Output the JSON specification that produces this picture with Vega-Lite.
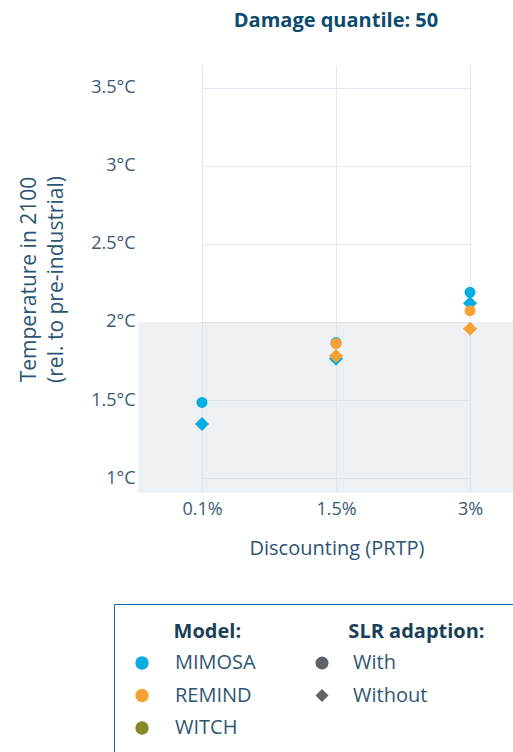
{
  "$schema": "https://vega.github.io/schema/vega-lite/v6.json",
  "autosize": {"type": "none"},
  "padding": {"left": 138, "top": 65, "right": 0, "bottom": 259},
  "width": 375,
  "height": 428,
  "background": "white",
  "config": {
    "font": "Open Sans",
    "view": {"stroke": null}
  },
  "title": {
    "text": "Damage quantile: 50",
    "fontSize": 20,
    "fontWeight": "bold",
    "color": "#0d4b6e",
    "anchor": "middle",
    "frame": "group",
    "dx": 10.5,
    "offset": 34
  },
  "datasets": {
    "results": [
      {"PRTP": "0.1%", "Model": "MIMOSA", "SLR": "With", "temp": 1.485},
      {"PRTP": "0.1%", "Model": "MIMOSA", "SLR": "Without", "temp": 1.346},
      {"PRTP": "1.5%", "Model": "MIMOSA", "SLR": "With", "temp": 1.868},
      {"PRTP": "1.5%", "Model": "MIMOSA", "SLR": "Without", "temp": 1.765},
      {"PRTP": "1.5%", "Model": "REMIND", "SLR": "With", "temp": 1.862},
      {"PRTP": "1.5%", "Model": "REMIND", "SLR": "Without", "temp": 1.782},
      {"PRTP": "3%", "Model": "MIMOSA", "SLR": "With", "temp": 2.19},
      {"PRTP": "3%", "Model": "MIMOSA", "SLR": "Without", "temp": 2.12},
      {"PRTP": "3%", "Model": "REMIND", "SLR": "With", "temp": 2.072},
      {"PRTP": "3%", "Model": "REMIND", "SLR": "Without", "temp": 1.957}
    ],
    "band": [{"lower": 0.905, "upper": 2}]
  },
  "layer": [
    {
      "data": {"name": "band"},
      "mark": {"type": "rect", "color": "#dce3ea", "opacity": 0.5},
      "encoding": {
        "y": {"field": "lower", "type": "quantitative"},
        "y2": {"field": "upper"}
      }
    },
    {
      "data": {"name": "results"},
      "encoding": {
        "x": {
          "field": "PRTP",
          "type": "nominal",
          "sort": ["0.1%", "1.5%", "3%"],
          "scale": {"type": "point", "domain": ["0.1%", "1.5%", "3%"], "range": [64, 332], "padding": 0},
          "axis": {
            "title": "Discounting (PRTP)",
            "labelAngle": 0,
            "domain": false,
            "ticks": false,
            "grid": true,
            "gridColor": "#e1e8ef",
            "gridWidth": 1,
            "labelFontSize": 18,
            "labelColor": "#3a5b76",
            "labelPadding": 7,
            "titleFontSize": 20,
            "titleFontWeight": "normal",
            "titleColor": "#2b5573",
            "titlePadding": 20,
            "titleX": 198.5,
            "titleAlign": "center"
          }
        },
        "y": {"field": "temp", "type": "quantitative"},
        "color": {
          "field": "Model",
          "type": "nominal",
          "scale": {"domain": ["MIMOSA", "REMIND", "WITCH"], "range": ["#05ade2", "#f7a033", "#878a2b"]},
          "legend": {
            "title": "\u200b\u00a0\u00a0\u00a0\u00a0\u00a0\u00a0\u00a0\u00a0Model:",
            "titleLimit": 1000,
            "labelLimit": 1000,
            "labelExpr": "datum.label === 'WITCH' ? 'WITCH\u00a0\u00a0\u00a0\u00a0\u00a0\u00a0\u00a0\u00a0\u00a0\u00a0\u00a0\u00a0\u00a0\u00a0\u00a0\u00a0\u00a0\u00a0\u00a0\u00a0\u00a0\u00a0\u00a0\u00a0\u00a0\u00a0\u00a0\u00a0\u00a0\u00a0\u00a0\u00a0\u00a0\u00a0\u00a0\u00a0\u00a0\u00a0\u00a0\u00a0\u00a0\u00a0\u00a0\u00a0\u00a0\u00a0\u00a0\u00a0\u00a0\u00a0\u00a0\u200b' : datum.label",
            "orient": "none",
            "legendX": -24,
            "legendY": 539,
            "padding": 18,
            "strokeColor": "#1f6aa5",
            "titleFontSize": 20,
            "titleFontWeight": "bold",
            "titleColor": "#1b3f58",
            "titlePadding": 11,
            "labelFontSize": 20,
            "labelColor": "#2f5670",
            "labelOffset": 23,
            "rowPadding": 12.5,
            "symbolSize": 180,
            "symbolType": "circle",
            "symbolStrokeWidth": 0,
            "encode": {
              "legend": {"update": {"strokeWidth": {"value": 2}}}
            }
          }
        },
        "shape": {
          "field": "SLR",
          "type": "nominal",
          "scale": {"domain": ["With", "Without"], "range": ["circle", "diamond"]},
          "legend": {
            "title": "\u200b\u00a0\u00a0\u00a0\u00a0\u00a0\u00a0\u00a0SLR adaption:",
            "titleLimit": 1000,
            "orient": "none",
            "legendX": 156,
            "legendY": 539,
            "padding": 18,
            "titleFontSize": 20,
            "titleFontWeight": "bold",
            "titleColor": "#1b3f58",
            "titlePadding": 11,
            "labelFontSize": 20,
            "labelColor": "#2f5670",
            "labelOffset": 21,
            "rowPadding": 12.5,
            "symbolSize": 170,
            "symbolFillColor": "#5f6368",
            "symbolStrokeWidth": 0,
            "encode": {
              "symbols": {"update": {"fill": {"value": "#5f6368"}, "opacity": {"value": 1}}}
            }
          }
        }
      },
      "layer": [
        {
          "transform": [{"filter": "datum.SLR === 'Without'"}],
          "mark": {"type": "point", "filled": true, "opacity": 1, "size": 196, "strokeWidth": 0}
        },
        {
          "transform": [{"filter": "datum.SLR === 'With'"}],
          "mark": {"type": "point", "filled": true, "opacity": 1, "size": 121, "strokeWidth": 0}
        }
      ]
    }
  ],
  "resolve": {"scale": {"y": "shared"}},
  "encoding": {
    "y": {
      "type": "quantitative",
      "scale": {"domain": [0.905, 3.645], "nice": false, "zero": false},
      "axis": {
        "title": ["Temperature in 2100", "(rel. to pre-industrial)"],
        "values": [1, 1.5, 2, 2.5, 3, 3.5],
        "labelExpr": "datum.value + '°C'",
        "domain": false,
        "ticks": false,
        "grid": true,
        "gridColor": "#e1e8ef",
        "gridWidth": 1,
        "labelFontSize": 18,
        "labelColor": "#3a5b76",
        "labelPadding": 3,
        "titleFontSize": 21,
        "titleFontWeight": "normal",
        "titleColor": "#2b5573",
        "titleLineHeight": 27,
        "titleX": -108.5,
        "titleBaseline": "middle",
        "titleAngle": -90
      }
    }
  }
}
